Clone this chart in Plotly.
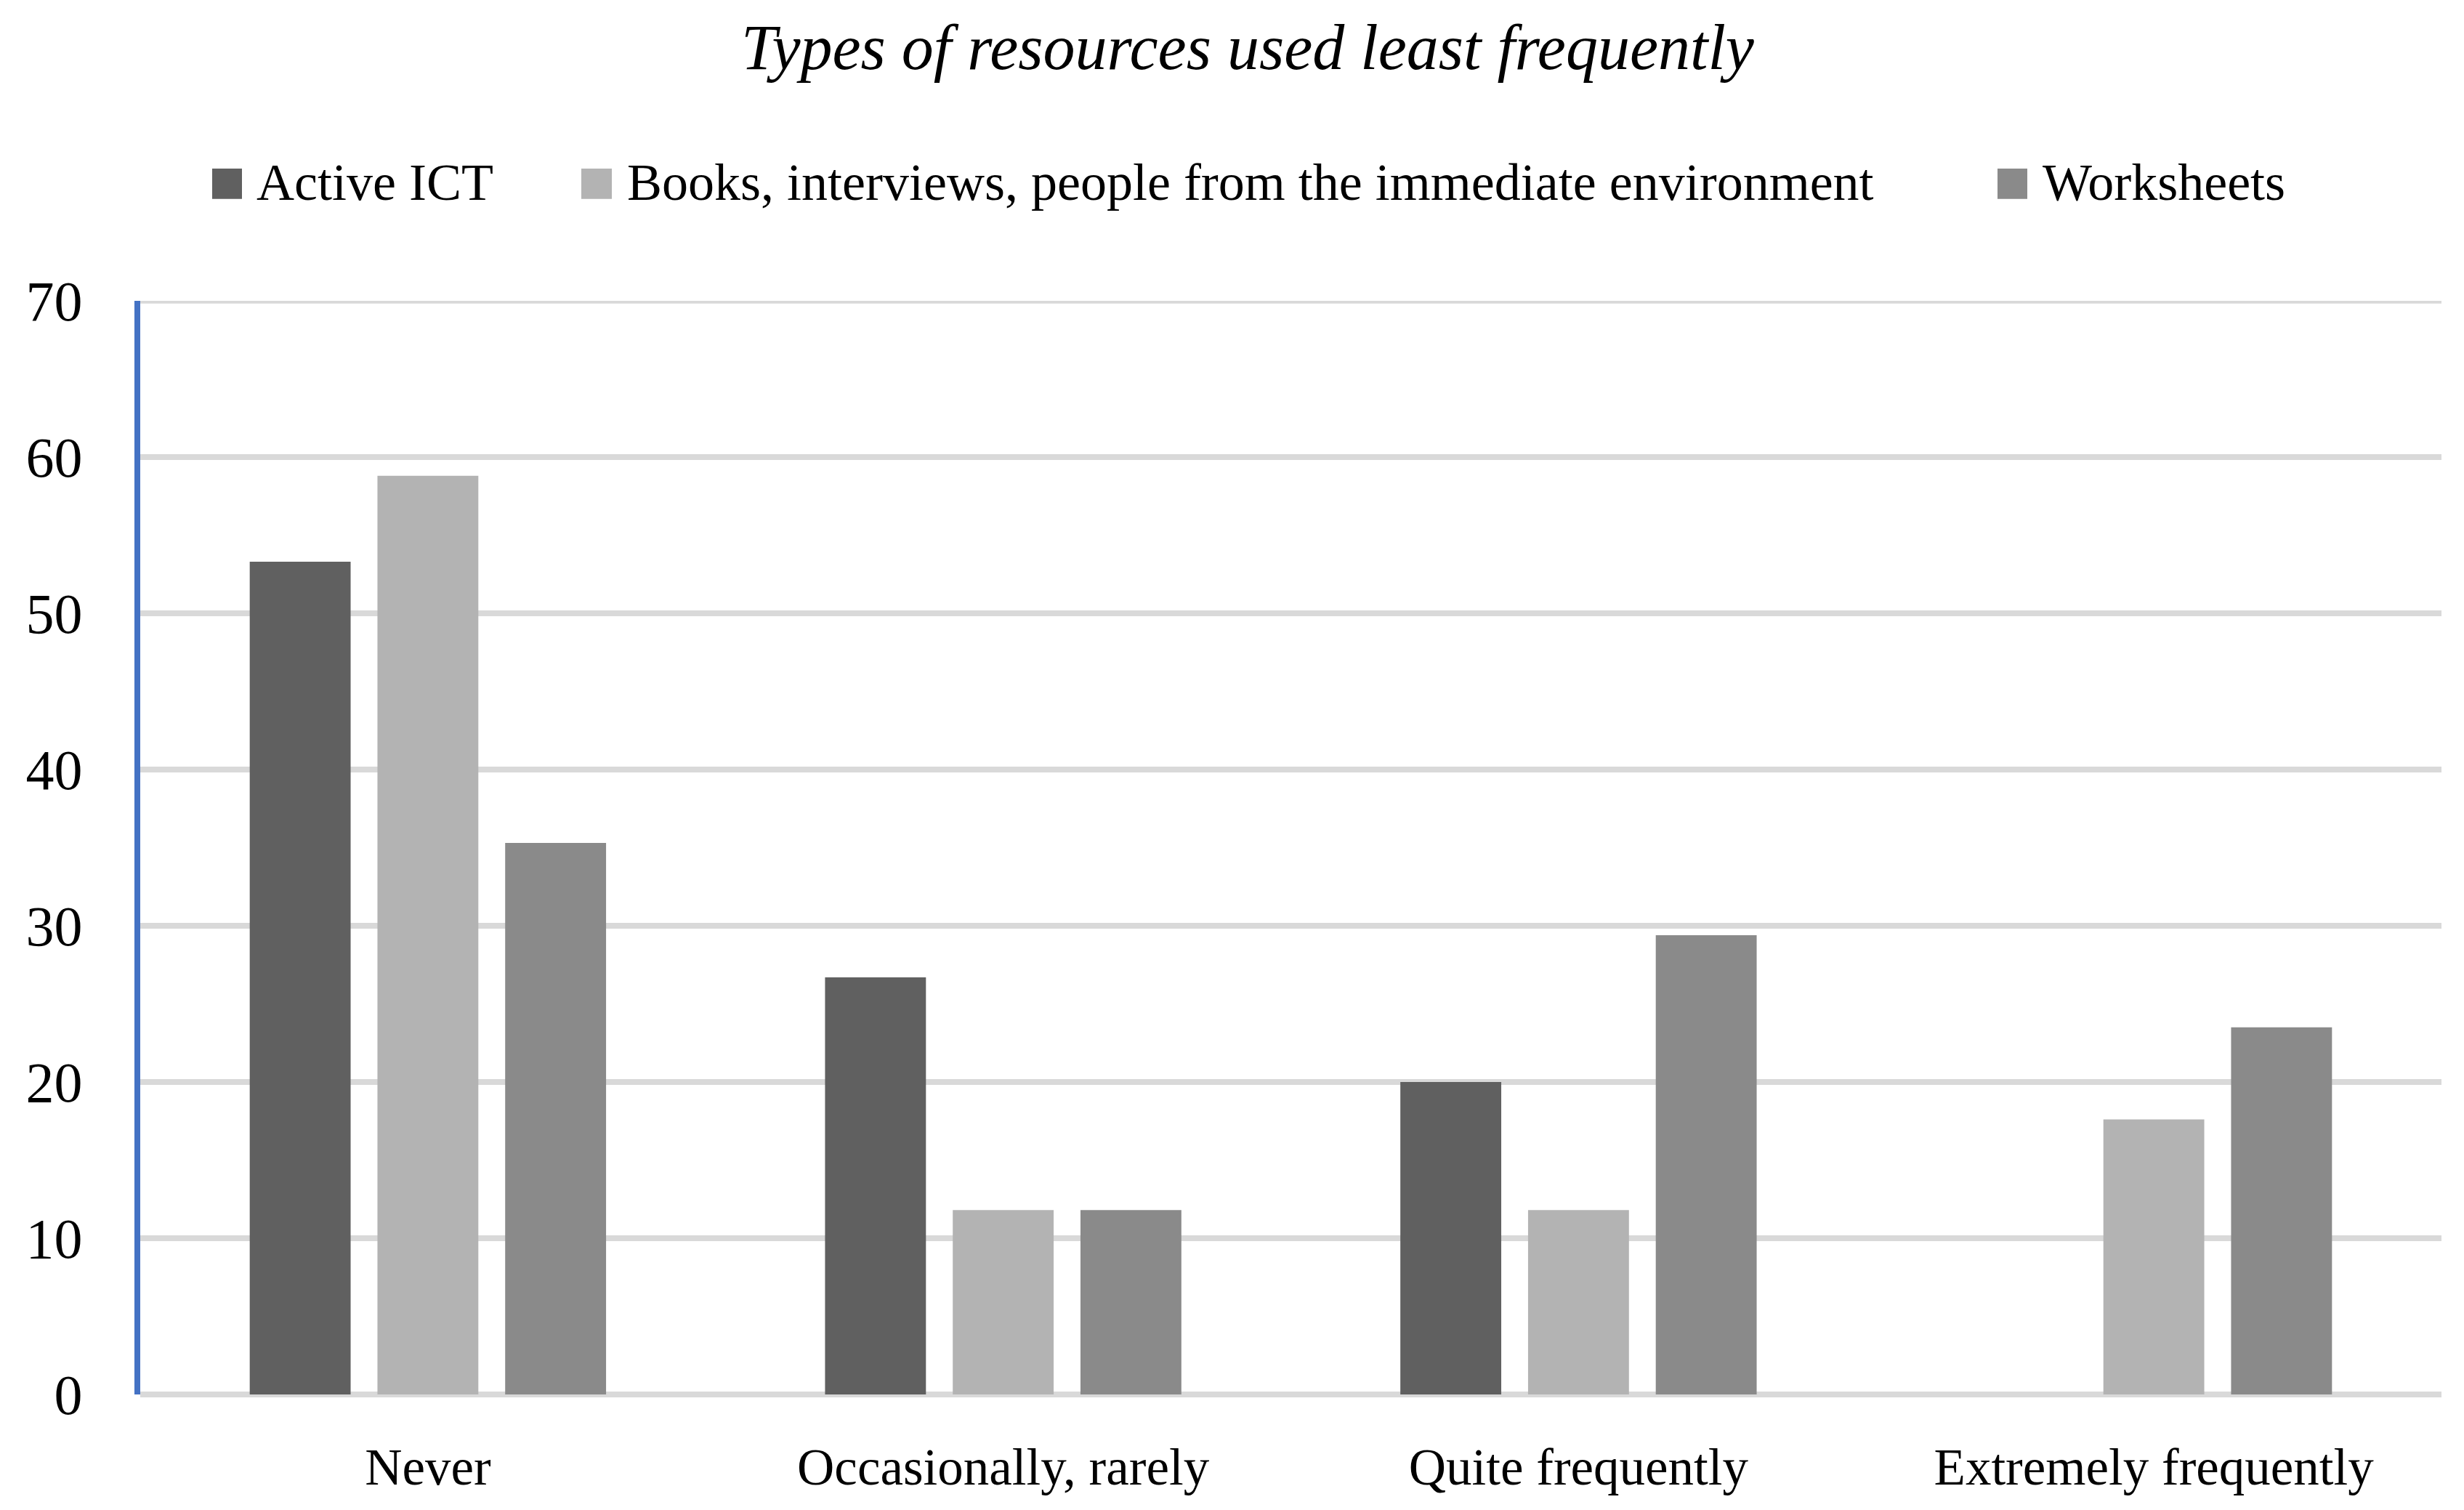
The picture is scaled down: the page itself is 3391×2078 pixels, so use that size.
import plotly.graph_objects as go

categories = ["Never", "Occasionally, rarely", "Quite frequently", "Extremely frequently"]
series_names = ["Active ICT", "Books, interviews, people from the immediate environment", "Worksheets"]
active_ict = [53.3, 26.7, 20.0, 0.0]
books = [58.8, 11.8, 11.8, 17.6]
worksheets = [35.3, 11.8, 29.4, 23.5]
y_ticks = [0, 10, 20, 30, 40, 50, 60, 70]
colors = ["#606060", "#b3b3b3", "#8a8a8a"]

# the page body has an 8px margin, so the figure is offset by 8px
OFF = 8
W, H = 3391 - 2 * OFF, 2078 - 2 * OFF
L, R, T, B = 193 - OFF, 3391 - OFF - 3360, 414 - OFF, 2078 - OFF - 1920 - OFF
FONT = "Liberation Serif"


def px_x(p):
    # p is a page x coordinate
    return (p - OFF - L) / (W - L - R)


def px_y(p):
    return (H - B - (p - OFF)) / (H - T - B)


fig = go.Figure()
for name, vals, col in zip(series_names, [active_ict, books, worksheets], colors):
    fig.add_trace(go.Bar(x=categories, y=vals, name=name, marker_color=col,
                         marker_line_width=0, showlegend=False))

# manual legend (large square swatches like the original)
legend_sq = [(292, 333), (800, 842), (2749, 2790)]
legend_tx = [351, 861, 2809]
shapes = []
annotations = []
for (x0, x1), tx, name, col in zip(legend_sq, legend_tx, series_names, colors):
    shapes.append(dict(type="rect", xref="paper", yref="paper",
                       x0=px_x(x0), x1=px_x(x1), y0=px_y(273), y1=px_y(231),
                       fillcolor=col, line_width=0))
    annotations.append(dict(xref="paper", yref="paper", x=px_x(tx), y=px_y(250),
                            xanchor="left", yanchor="middle", showarrow=False,
                            text=name, font=dict(family=FONT, size=72, color="#000000")))

# top gridline (plotly drops the grid line lying on the plot edge)
shapes.append(dict(type="line", xref="paper", yref="y", x0=0, x1=1,
                   y0=y_ticks[-1], y1=y_ticks[-1], layer="below",
                   line=dict(color="#d9d9d9", width=7.5)))

fig.update_layout(
    width=W, height=H,
    margin=dict(l=L, r=R, t=T, b=B),
    paper_bgcolor="white", plot_bgcolor="white",
    barmode="group", bargap=0.334, bargroupgap=0.21,
    title=dict(text="<i>Types of resources used least frequently</i>",
               x=(1717 - OFF) / W, xanchor="center", y=1 - (64 - OFF) / H, yanchor="middle",
               font=dict(family=FONT, size=88, color="#000000")),
    shapes=shapes, annotations=annotations,
    showlegend=False,
)
fig.update_xaxes(showgrid=False, showline=False, ticks="",
                 tickfont=dict(family=FONT, size=71, color="#000000"),
                 ticklabelstandoff=52)
fig.update_yaxes(range=[0, 70], tickvals=y_ticks, ticktext=[str(v) for v in y_ticks],
                 showgrid=True, gridcolor="#d9d9d9", gridwidth=7.5,
                 zeroline=True, zerolinecolor="#d9d9d9", zerolinewidth=7.5,
                 showline=True, linecolor="#4472c4", linewidth=8, ticks="",
                 tickfont=dict(family=FONT, size=78, color="#000000"),
                 ticklabelstandoff=56)

fig.write_html("out.html")
